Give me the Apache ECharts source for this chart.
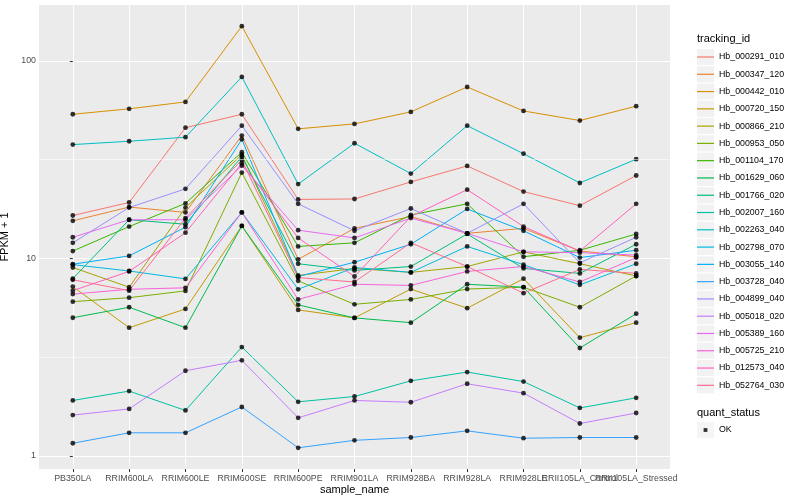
<!DOCTYPE html>
<html><head><meta charset="utf-8">
<script src="https://cdn.jsdelivr.net/npm/echarts@6/dist/echarts.min.js"></script>
<style>html,body{margin:0;padding:0;background:#fff}#c{width:800px;height:500px}</style>
</head><body><div id="c"></div>
<script>
const categories = ["PB350LA","RRIM600LA","RRIM600LE","RRIM600SE","RRIM600PE","RRIM901LA","RRIM928BA","RRIM928LA","RRIM928LE","RRII105LA_Control","RRII105LA_Stressed"];
const trackingIds = ["Hb_000291_010","Hb_000347_120","Hb_000442_010","Hb_000720_150","Hb_000866_210","Hb_000953_050","Hb_001104_170","Hb_001629_060","Hb_001766_020","Hb_002007_160","Hb_002263_040","Hb_002798_070","Hb_003055_140","Hb_003728_040","Hb_004899_040","Hb_005018_020","Hb_005389_160","Hb_005725_210","Hb_012573_040","Hb_052764_030"];
const colors = ["#F8766D","#EA8331","#D89000","#C09B00","#A3A500","#7CAE00","#39B600","#00BB4E","#00BF7D","#00C1A3","#00BFC4","#00BAE0","#00B0F6","#35A2FF","#9590FF","#C77CFF","#E76BF3","#FA62DB","#FF62BC","#FF6C91"];
const yTicks = [1, 10, 100];
const yMinorTicks = [3.1623, 31.623];
const quantStatus = ["OK"];

const hb_000291_010 = [16.5, 19.2, 45.9, 53.7, 19.9, 20.0, 24.4, 29.4, 21.8, 18.5, 26.3];
const hb_000347_120 = [15.5, 18.2, 17.1, 41.9, 9.9, 14.2, 16.3, 13.4, 14.2, 10.9, 10.2];
const hb_000442_010 = [53.7, 57.2, 62.0, 150, 45.3, 48.0, 55.2, 73.8, 55.8, 49.9, 59.0];
const hb_000720_150 = [7.2, 4.46, 5.55, 14.6, 5.49, 5.0, 7.0, 5.6, 7.9, 3.97, 4.73];
const hb_000866_210 = [9.0, 7.15, 18.1, 33.5, 8.2, 8.9, 8.5, 9.1, 10.8, 9.4, 8.15];
const hb_000953_050 = [6.04, 6.33, 6.85, 27.2, 7.7, 5.86, 6.2, 7.0, 7.15, 5.66, 8.15];
const hb_001104_170 = [10.9, 14.5, 19.0, 34.5, 11.5, 12.0, 16.6, 18.9, 10.2, 11.0, 13.3];
const hb_001629_060 = [5.01, 5.66, 4.46, 14.6, 5.82, 5.0, 4.73, 7.4, 7.15, 3.52, 5.25];
const hb_001766_020 = [7.9, 15.7, 14.9, 32.8, 9.4, 8.7, 9.1, 13.3, 8.9, 8.4, 11.8];
const hb_002007_160 = [1.91, 2.13, 1.70, 3.56, 1.88, 2.0, 2.40, 2.66, 2.38, 1.75, 1.97];
const hb_002263_040 = [37.7, 39.2, 41.1, 83, 23.8, 38.3, 26.9, 47, 33.9, 24.1, 31.8];
const hb_002798_070 = [9.3, 8.64, 7.88, 17.1, 6.98, 9.0, 8.5, 11.5, 9.3, 7.35, 9.4];
const hb_003055_140 = [9.35, 10.3, 14.4, 40.1, 8.1, 9.57, 11.8, 17.8, 13.8, 10.1, 11.0];
const hb_003728_040 = [1.16, 1.31, 1.31, 1.77, 1.10, 1.20, 1.24, 1.34, 1.23, 1.24, 1.24];
const hb_004899_040 = [12.0, 18.1, 22.5, 47, 18.9, 13.8, 17.9, 13.4, 18.9, 9.5, 12.8];
const hb_005018_020 = [1.61, 1.73, 2.70, 3.05, 1.56, 1.91, 1.87, 2.32, 2.08, 1.46, 1.65];
const hb_005389_160 = [12.8, 15.7, 15.7, 29.5, 13.9, 12.7, 16.0, 13.4, 10.8, 10.7, 10.4];
const hb_005725_210 = [6.6, 6.98, 7.1, 17.1, 6.2, 7.4, 7.3, 8.6, 9.1, 7.6, 10.1];
const hb_012573_040 = [6.87, 8.6, 13.5, 30.3, 12.7, 8.1, 16.3, 22.3, 14.5, 10.9, 18.9];
const hb_052764_030 = [7.8, 6.87, 16.0, 31.5, 8.0, 7.6, 12.0, 9.1, 6.67, 8.8, 8.4];

const seriesValues = [hb_000291_010, hb_000347_120, hb_000442_010, hb_000720_150, hb_000866_210,
  hb_000953_050, hb_001104_170, hb_001629_060, hb_001766_020, hb_002007_160, hb_002263_040,
  hb_002798_070, hb_003055_140, hb_003728_040, hb_004899_040, hb_005018_020, hb_005389_160,
  hb_005725_210, hb_012573_040, hb_052764_030];

const FONT = "'Liberation Sans', Arial, Helvetica, sans-serif";
const catIdx = categories.map((c, i) => i);
const lineIcon = 'path://M0,0 M17,16 M0,7.4 L17,7.4 L17,8.6 L0,8.6 Z';
const pointIcon = 'path://M0,0 M17,16 M6.6,6.1 L10.4,6.1 L10.4,9.9 L6.6,9.9 Z';
const keyFill = '#F2F2F2';

const panelL = 39, panelR = 670, panelT = 5, panelB = 469;
const step = (panelR - panelL) / (categories.length - 1 + 1.2);

const lineSeries = trackingIds.map((id, k) => ({
  name: id, type: 'line', color: colors[k], xAxisIndex: 0, yAxisIndex: 0,
  data: seriesValues[k].map((v, i) => [i, v]),
  showSymbol: false, symbol: 'none', silent: true, z: 2,
  lineStyle: { width: 1, color: colors[k] }
}));

const pointSeries = {
  name: quantStatus[0], type: 'scatter', silent: true, z: 3, xAxisIndex: 0, yAxisIndex: 0,
  data: seriesValues.flatMap(vals => vals.map((v, i) => [i, v])),
  symbol: 'circle', symbolSize: 4.8, itemStyle: { color: '#000' }
};

const minorGrid = {
  name: '', type: 'line', data: [], z: 1, silent: true, xAxisIndex: 0, yAxisIndex: 0,
  markLine: {
    silent: true, symbol: 'none', animation: false, label: { show: false },
    lineStyle: { color: '#ffffff', width: 0.55, type: 'solid' },
    data: yMinorTicks.map(v => ({ yAxis: v }))
  }
};

const legendBase = { orient: 'vertical', left: 697, padding: 0, itemWidth: 17, itemHeight: 16, itemGap: 1.28, selectedMode: false };

const chart = echarts.init(document.getElementById('c'), null, { renderer: 'canvas' });
chart.setOption({
  backgroundColor: '#ffffff',
  animation: false,
  textStyle: { fontFamily: FONT },
  title: [
    { text: 'tracking_id', left: 697, top: 33, padding: 0, textStyle: { fontSize: 11, fontWeight: 'normal', color: '#000', fontFamily: FONT } },
    { text: 'quant_status', left: 697, top: 407, padding: 0, textStyle: { fontSize: 11, fontWeight: 'normal', color: '#000', fontFamily: FONT } }
  ],
  grid: [
    { left: panelL, right: 800 - panelR, top: panelT, bottom: 500 - panelB, show: true, backgroundColor: '#EBEBEB', borderWidth: 0, containLabel: false, outerBoundsMode: 'none' },
    { left: panelL + 0.1 * step, right: 800 - (panelR - 0.1 * step), top: panelT, bottom: 500 - panelB, show: false, containLabel: false, outerBoundsMode: 'none' }
  ],
  xAxis: [
    {
      type: 'value', gridIndex: 0, min: -0.6, max: 10.6,
      axisLine: { show: false },
      axisTick: { show: true, customValues: catIdx, length: 3, lineStyle: { color: '#333333', width: 1 } },
      axisLabel: { show: false },
      splitLine: { show: true, lineStyle: { color: '#ffffff', width: 1.07 } },
      minorSplitLine: { show: false },
      name: 'sample_name', nameLocation: 'middle', nameGap: 15,
      nameTextStyle: { color: '#000', fontSize: 11, fontFamily: FONT }
    },
    {
      type: 'category', gridIndex: 1, data: categories, boundaryGap: true,
      axisLine: { show: false }, axisTick: { show: false }, splitLine: { show: false },
      axisLabel: { interval: 0, color: '#4D4D4D', fontSize: 8.8, margin: 5.5, fontFamily: FONT, hideOverlap: false }
    }
  ],
  yAxis: [
    {
      type: 'log', gridIndex: 0, logBase: 10, min: 0.859, max: 191.9,
      axisLine: { show: false },
      axisTick: { show: true, customValues: yTicks, length: 3, lineStyle: { color: '#333333', width: 1 } },
      axisLabel: { customValues: yTicks, color: '#4D4D4D', fontSize: 8.8, margin: 3, fontFamily: FONT },
      splitLine: { show: true, lineStyle: { color: '#ffffff', width: 1.07 } },
      minorSplitLine: { show: false },
      name: 'FPKM + 1', nameLocation: 'middle', nameGap: 25, nameRotate: 90,
      nameTextStyle: { color: '#000', fontSize: 11, fontFamily: FONT }
    },
    { type: 'value', gridIndex: 1, show: false, min: 0, max: 1 }
  ],
  legend: [
    Object.assign({}, legendBase, { data: trackingIds, top: 49, icon: 'rect', z: 3,
      formatter: () => '', itemStyle: { color: keyFill, borderWidth: 0 },
      textStyle: { fontSize: 8.8, fontFamily: FONT } }),
    Object.assign({}, legendBase, { data: trackingIds.map(n => ({ name: n, icon: lineIcon })), top: 49, z: 4,
      itemStyle: { borderWidth: 0 },
      textStyle: { fontSize: 8.8, color: '#000', fontFamily: FONT } }),
    Object.assign({}, legendBase, { data: quantStatus, top: 422, icon: 'rect', z: 3,
      formatter: () => '', itemStyle: { color: keyFill, borderWidth: 0 },
      textStyle: { fontSize: 8.8, fontFamily: FONT } }),
    Object.assign({}, legendBase, { data: quantStatus.map(n => ({ name: n, icon: pointIcon })), top: 422, z: 4,
      itemStyle: { color: '#000', borderWidth: 0 },
      textStyle: { fontSize: 8.8, color: '#000', fontFamily: FONT } })
  ],
  series: [minorGrid, ...lineSeries, pointSeries]
});
</script>
</body></html>
